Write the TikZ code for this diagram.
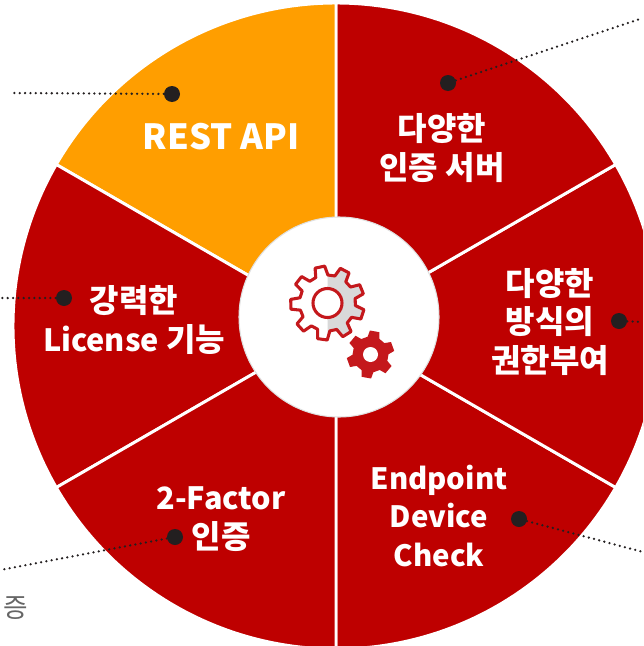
\documentclass[tikz,border=0pt]{standalone}
\usepackage{fontspec}
\setmainfont{Noto Sans CJK KR}
\usepackage{xcolor}
\usetikzlibrary{positioning, calc}

\definecolor{wheelred}{HTML}{BE0000}
\definecolor{wheelorange}{HTML}{FF9E00}
\definecolor{gearred}{HTML}{C4181C}
\definecolor{geargrey}{HTML}{D9D9D9}
\definecolor{dotblack}{HTML}{231F20}

\newcommand{\kr}[1]{{\fontsize{24}{29}\selectfont #1}}
% teeth, inner radius, outer radius, rotation
\newcommand{\gearpath}[4]{({#4-0.32*360/#1}:#2)
  \foreach \i in {1,...,#1} {
    -- ({#4+\i*360/#1-360/#1-0.32*360/#1}:#2)
    -- ({#4+\i*360/#1-360/#1-0.19*360/#1}:#3)
    -- ({#4+\i*360/#1-360/#1+0.19*360/#1}:#3)
    -- ({#4+\i*360/#1-360/#1+0.32*360/#1}:#2)
  } -- cycle}

\begin{document}
\begin{tikzpicture}[
    x=0.75pt, y=-0.75pt,
    sector/.style={draw=white, line width=2.2pt},
    label/.style={text=white, font=\fontsize{22}{29}\selectfont\bfseries, align=center, inner sep=0pt},
    dot/.style={circle, fill=dotblack, minimum size=12pt, inner sep=0pt},
    leader/.style={draw=dotblack, line width=1.9pt, line cap=round, dash pattern=on 0pt off 4pt},
    hub/.style={circle, fill=white, draw=black!12, line width=0.8pt, minimum size=150pt, inner sep=0pt}
]
\useasboundingbox (0,0) rectangle (643,646);
\clip (0,0) rectangle (643,646);

% wheel
\coordinate (center) at (336,326);
\coordinate (hubcenter) at (339,317);
\foreach \a/\col in {90/wheelred,30/wheelred,-30/wheelred,-90/wheelorange,-150/wheelred,150/wheelred} {
  \fill[\col, sector] (center) -- ($(center)+(\a:323)$) arc[start angle=\a, delta angle=-60, radius=323] -- cycle;
}

% leaders
\node[dot] (restdot) at (172,94) {};
\node[dot] (authdot) at (448,83) {};
\node[dot] (rightsdot) at (619,321) {};
\node[dot] (devicedot) at (519,519) {};
\node[dot] (factordot) at (175,537) {};
\node[dot] (licensedot) at (64,298) {};
\coordinate (restend) at (12,93);
\coordinate (authend) at (643,18);
\coordinate (rightsend) at (643,322);
\coordinate (deviceend) at (643,552);
\coordinate (factorend) at (0,570);
\coordinate (licenseend) at (0,298);
\draw[leader] (restdot) -- (restend);
\draw[leader] (authdot) -- (authend);
\draw[leader] (rightsdot) -- (rightsend);
\draw[leader] (devicedot) -- (deviceend);
\draw[leader] (factordot) -- (factorend);
\draw[leader] (licensedot) -- (licenseend);

% labels
\node[label, font=\fontsize{26}{30}\selectfont\bfseries] (rest) at (221,137) {REST API};
\node[label] (auth) at (442,148) {\kr{다양한}\\\kr{인증 서버}};
\node[label] (rights) at (550,322) {\kr{다양한}\\\kr{방식의}\\\kr{권한부여}};
\node[label] (device) at (439,516) {Endpoint\\Device\\Check};
\node[label, font=\fontsize{23}{29}\selectfont\bfseries] (factor) at (221,519) {2-Factor\\\kr{인증}};
\node[label, font=\fontsize{23}{29}\selectfont\bfseries] (license) at (134,320) {\kr{강력한}\\License \kr{기능}};
\node[anchor=east, inner sep=0pt, text=black!60, font=\fontsize{20}{24}\selectfont] (cutoff) at (28,607) {인증};

% hub and gears
\node[hub] (hubnode) at (hubcenter) {};
\begin{scope}[shift={(327.5,303)}]
  \fill[white] \gearpath{9}{28}{37}{-102};
  \begin{scope}
    \clip (0,-45) rectangle (45,45);
    \fill[geargrey] \gearpath{9}{28}{37}{-102};
  \end{scope}
  \draw[gearred, line width=2.3pt, line join=round] \gearpath{9}{28}{37}{-102};
  \draw[gearred, fill=white, line width=2.3pt] (0,0) circle[radius=14.5];
\end{scope}
\begin{scope}[shift={(370.5,354.5)}]
  \fill[gearred] \gearpath{6}{18}{24}{-80};
  \fill[white] (0,0) circle[radius=7.5];
\end{scope}

\end{tikzpicture}
\end{document}
